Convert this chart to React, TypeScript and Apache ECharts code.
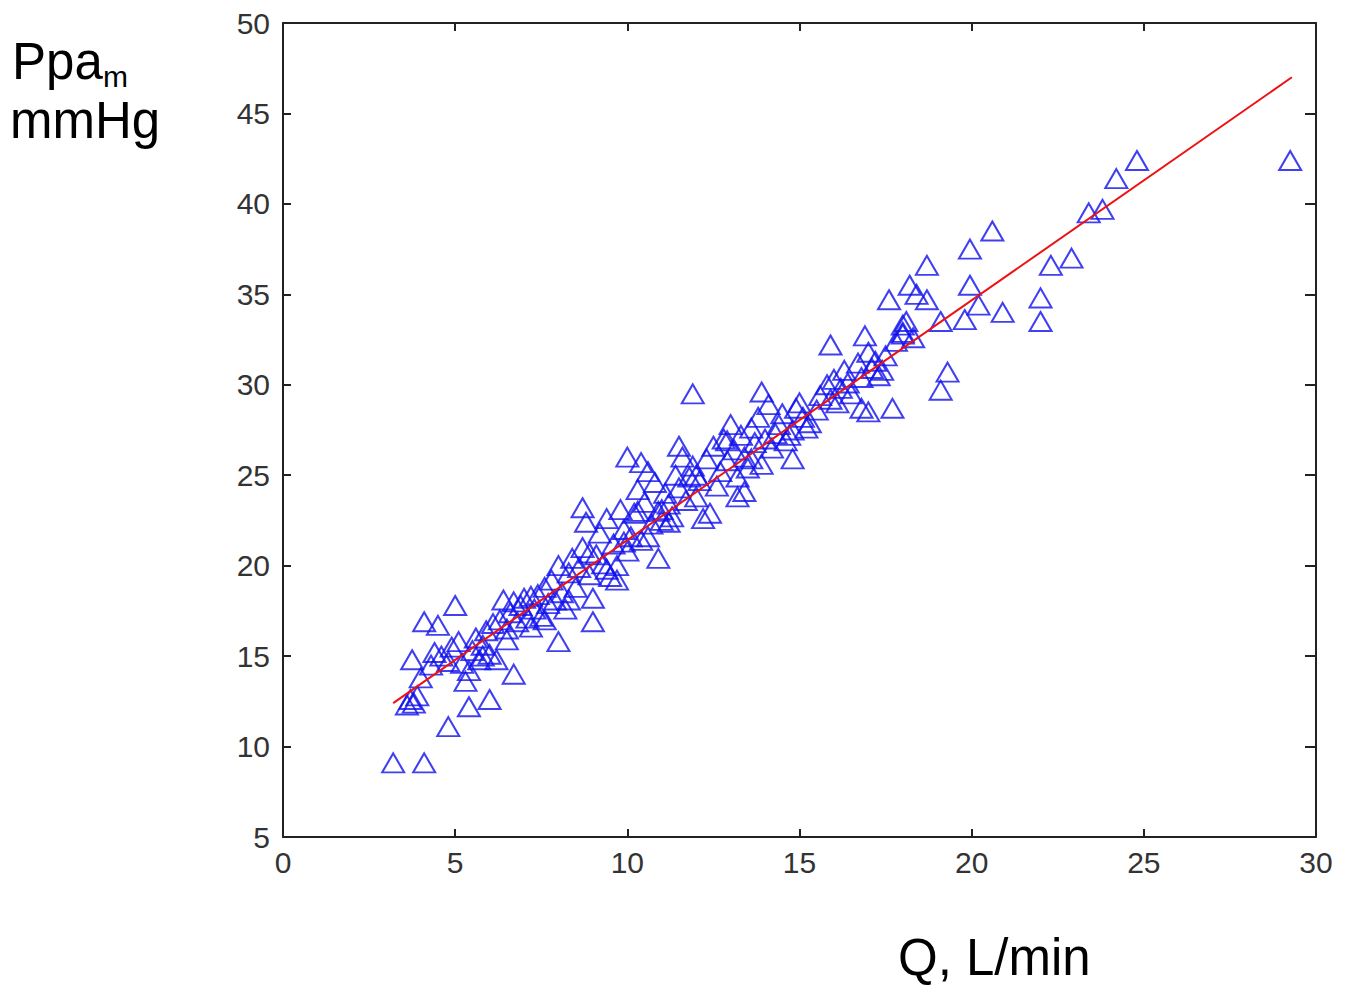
import React, { useEffect, useRef } from "react";
import * as echarts from "echarts";

const xTicks = [0, 5, 10, 15, 20, 25, 30];
const yTicks = [5, 10, 15, 20, 25, 30, 35, 40, 45, 50];

const qValues = [
  3.2, 4.1, 4.8, 5.4, 6.0, 3.6, 3.7, 3.8, 3.9, 3.75, 4.1, 4.5, 5.0, 6.7, 8.0, 9.0,
  10.9, 11.9, 10.0, 8.7, 10.4, 11.5, 12.2, 13.2, 13.9, 13.9, 14.8, 14.9, 15.9, 16.9,
  17.6, 17.7, 16.8, 19.1, 19.3, 18.7, 18.2, 18.4, 18.7, 19.95, 20.6, 19.95, 20.2, 19.8,
  19.1, 20.9, 22.0, 22.0, 22.3, 22.9, 23.4, 23.8, 24.2, 24.8, 29.25, 18.0, 18.0, 17.3, 17.5,
  4.0, 4.3, 4.4, 4.6, 4.8, 4.9, 5.1, 5.2, 5.3, 5.4, 5.5, 5.6, 5.7, 5.8, 5.9, 6.0,
  6.1, 6.2, 6.3, 6.4, 6.5, 6.6, 6.7, 6.8, 6.9, 7.0, 7.1, 7.2, 7.3, 7.4, 7.5, 7.6,
  7.7, 7.8, 7.9, 8.0, 8.1, 8.2, 8.3, 8.4, 8.5, 8.6, 8.7, 8.8, 8.9, 9.0, 9.1, 9.2,
  9.3, 9.4, 9.5, 9.6, 9.7, 9.8, 9.9, 10.0, 10.1, 10.2, 10.3, 10.4, 10.5, 10.6, 10.7,
  10.8, 10.9, 11.0, 11.1, 11.2, 11.3, 11.4, 11.5, 11.6, 11.7, 11.8, 11.9, 12.0, 12.1,
  12.3, 12.4, 12.5, 12.6, 12.7, 12.8, 12.9, 13.0, 13.1, 13.2, 13.3, 13.4, 13.5, 13.6,
  13.7, 13.8, 14.0, 14.1, 14.2, 14.4, 14.5, 14.6, 14.8, 15.0, 15.1, 15.3, 15.5, 15.6,
  15.8, 15.9, 16.0, 16.2, 16.3, 16.5, 16.7, 16.8, 17.0, 17.1, 17.2, 17.4, 17.8, 18.0,
  18.1, 18.3, 9.4, 9.7, 8.3, 7.6, 6.5, 5.8, 10.6, 11.2, 12.0, 13.4, 14.3, 15.2, 16.1,
  7.2, 8.9, 9.9, 10.3, 11.0, 12.9, 13.6, 14.7, 16.4, 17.0
];
const ppaValues = [
  9.1, 9.1, 11.1, 12.2, 12.6, 12.3, 12.6, 12.4, 12.8, 14.8, 16.9, 16.7, 17.8, 14.0, 15.8, 16.9,
  20.4, 29.5, 26.0, 23.2, 25.7, 26.6, 22.6, 23.8, 25.6, 29.6, 25.9, 28.7, 32.2, 32.7,
  34.7, 28.7, 28.7, 29.7, 30.7, 36.6, 35.5, 35.0, 34.7, 37.5, 38.5, 35.5, 34.4, 33.6,
  33.5, 34.0, 34.8, 33.5, 36.6, 37.0, 39.5, 39.7, 41.4, 42.4, 42.4, 33.3, 32.8, 30.5, 31.6,
  13.8, 14.5, 15.2, 15.0, 14.7, 15.5, 15.8, 14.6, 13.6, 14.2, 15.3, 16.0, 14.8, 15.6, 16.4, 15.1,
  16.8, 14.8, 17.0, 18.1, 16.5, 17.4, 18.0, 16.9, 17.8, 18.2, 17.1, 16.6, 17.6, 18.4, 17.2, 18.8,
  17.9, 19.2, 18.1, 20.0, 18.5, 17.6, 19.6, 20.4, 18.8, 19.9, 21.0, 22.4, 19.5, 18.2, 20.6, 21.8,
  20.1, 22.6, 19.4, 21.2, 20.0, 23.1, 22.0, 20.8, 21.6, 22.9, 24.2, 21.4, 23.5, 25.2, 22.3,
  24.6, 23.0, 22.5, 24.0, 23.4, 22.7, 25.0, 24.3, 26.0, 23.6, 24.9, 25.5, 23.8, 24.7,
  25.9, 22.9, 26.6, 24.4, 25.2, 27.0, 25.8, 27.8, 26.4, 24.9, 27.2, 26.0, 25.4, 27.6,
  26.8, 28.2, 27.0, 28.9, 26.5, 27.8, 28.4, 26.9, 27.5, 29.0, 28.2, 27.9, 28.6, 29.4,
  30.0, 29.2, 30.3, 29.8, 30.8, 29.5, 31.2, 30.4, 31.8, 30.9, 31.3, 30.8, 32.4, 32.9,
  33.5, 32.6, 19.8, 19.2, 18.1, 17.0, 15.9, 15.0, 21.6, 22.4, 25.0, 24.1, 27.3, 27.6, 29.0,
  18.3, 20.7, 21.3, 23.0, 23.1, 26.9, 25.9, 27.2, 30.1, 28.5
];

const fitQ = [3.2, 29.3];
const fitPpa = [12.4, 47.0];

export default function App() {
  const ref = useRef<HTMLDivElement>(null);
  useEffect(() => {
    if (!ref.current) return;
    const chart = echarts.init(ref.current, undefined, { renderer: "svg" });
    const scatterData = qValues.map((q, i) => [q, ppaValues[i]]);
    const fitData = fitQ.map((q, i) => [q, fitPpa[i]]);
    const mkLine = () => ({ show: true, onZero: false, lineStyle: { color: "#222", width: 2 } });
    const mkTick = (len: number) => ({ show: true, inside: true, length: len, lineStyle: { color: "#222", width: 2 } });
    const label = { color: "#333", fontSize: 30, fontFamily: "Liberation Sans, Arial, sans-serif" };
    chart.setOption({
      animation: false,
      backgroundColor: "#fff",
      grid: { left: 283, top: 23, right: 32, bottom: 155, containLabel: false },
      xAxis: [
        {
          type: "value", min: 0, max: 30, interval: 5, position: "bottom",
          axisLine: mkLine(), axisTick: mkTick(8), splitLine: { show: false },
          axisLabel: { ...label, margin: 10, formatter: (v: number) => (xTicks.includes(v) ? String(v) : "") },
        },
        {
          type: "value", min: 0, max: 30, interval: 5, position: "top",
          axisLine: mkLine(), axisTick: mkTick(8), splitLine: { show: false }, axisLabel: { show: false },
        },
      ],
      yAxis: [
        {
          type: "value", min: 5, max: 50, interval: 5, position: "left",
          axisLine: mkLine(), axisTick: mkTick(8), splitLine: { show: false },
          axisLabel: { ...label, margin: 13, formatter: (v: number) => (yTicks.includes(v) ? String(v) : "") },
        },
        {
          type: "value", min: 5, max: 50, interval: 5, position: "right",
          axisLine: mkLine(), axisTick: mkTick(11), splitLine: { show: false }, axisLabel: { show: false },
        },
      ],
      series: [
        {
          type: "scatter",
          data: scatterData,
          symbol: "triangle",
          symbolSize: [22, 19],
          itemStyle: { color: "rgba(255,255,255,0)", borderColor: "#1010ee", borderWidth: 2 },
          z: 2,
        },
        {
          type: "line",
          data: fitData,
          showSymbol: false,
          symbol: "none",
          lineStyle: { color: "#ee1111", width: 2 },
          z: 3,
        },
      ],
      graphic: [
        { type: "text", left: 12, top: 36, style: { text: "Ppa", font: "51px 'Liberation Sans', Arial, sans-serif", fill: "#000" } },
        { type: "text", left: 103, top: 61, style: { text: "m", font: "30px 'Liberation Sans', Arial, sans-serif", fill: "#000" } },
        { type: "text", left: 10, top: 95, style: { text: "mmHg", font: "51px 'Liberation Sans', Arial, sans-serif", fill: "#000" } },
        { type: "text", left: 898, top: 932, style: { text: "Q, L/min", font: "51px 'Liberation Sans', Arial, sans-serif", fill: "#000" } },
      ],
    });
    return () => chart.dispose();
  }, []);
  return <div ref={ref} style={{ position: "absolute", left: 0, top: 0, width: 1348, height: 992 }} />;
}
